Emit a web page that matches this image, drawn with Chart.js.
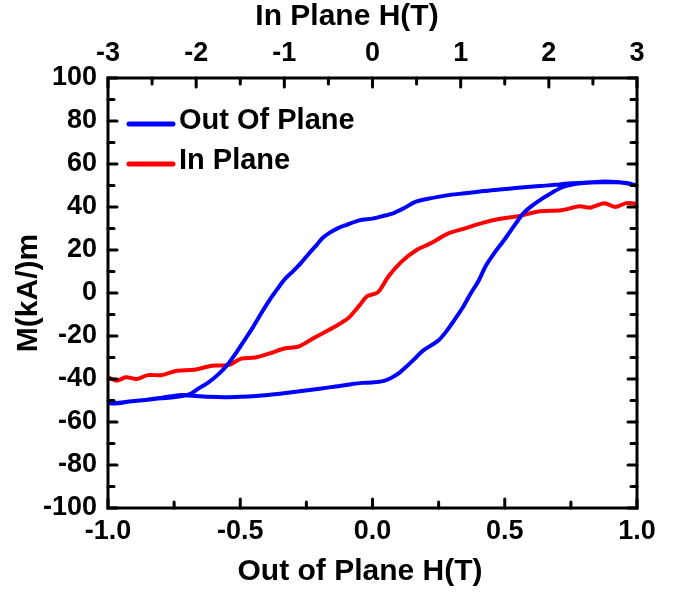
<!DOCTYPE html>
<html>
<head>
<meta charset="utf-8">
<script src="https://cdn.jsdelivr.net/npm/chart.js@4.4.1/dist/chart.umd.min.js"></script>
<style>
  html, body { margin: 0; padding: 0; background: #fff; }
  #wrap { width: 692px; height: 593px; }
</style>
</head>
<body>
<div id="wrap"><canvas id="myChart" width="692" height="593"></canvas></div>
<script>
// Out of plane loop (bottom axis, T) - upper branch then lower branch
let outH = [1.0, 0.96, 0.9, 0.86, 0.8, 0.75, 0.69, 0.62, 0.55, 0.48, 0.42, 0.35, 0.28, 0.21, 0.16, 0.12, 0.08, 0.04, 0.0,
    -0.05, -0.1, -0.13, -0.16, -0.19, -0.21, -0.24, -0.27, -0.3, -0.33, -0.36, -0.39, -0.42, -0.45, -0.48, -0.51, -0.55,
    -0.58, -0.62, -0.66, -0.69, -0.72, -0.76, -0.8, -0.84, -0.88, -0.92, -0.96, -1.0,
    -0.96, -0.92, -0.88, -0.84, -0.8, -0.76, -0.72, -0.68, -0.62, -0.56, -0.5, -0.44, -0.38, -0.32, -0.26, -0.2, -0.14,
    -0.08, -0.04, 0.0, 0.04, 0.07, 0.1, 0.13, 0.16, 0.19, 0.22, 0.25, 0.28, 0.31, 0.34, 0.37, 0.4, 0.43, 0.46, 0.5, 0.54,
    0.57, 0.6, 0.64, 0.68, 0.72, 0.76, 0.8, 0.86, 0.92, 0.96, 1.0];
let outM = [50, 51.2, 51.8, 51.8, 51.3, 51, 50.3, 49.6, 48.9, 48.1, 47.4, 46.4, 45.4, 43.8, 42.3, 39.5, 37.2, 35.8, 34.6,
    33.8, 31.6, 30.2, 28.2, 25.5, 22.5, 18.4, 14, 10.2, 6.7, 1.8, -3.4, -9.3, -15.5, -21.2, -26.8, -33.6,
    -37.5, -41.6, -44.6, -47, -47.9, -48.6, -49, -49.5, -50, -50.5, -51.3, -51.3,
    -51, -50.5, -50, -49.4, -48.8, -48, -47.4, -47.8, -48.3, -48.5, -48.3, -47.9, -47.2, -46.4, -45.5, -44.5, -43.5,
    -42.4, -41.8, -41.6, -41, -39.5, -37.3, -34, -30.5, -26.9, -24.5, -22, -17.7, -12.5, -7, -0.5, 5.5, 13, 18.5, 25, 32,
    37, 40.3, 43.8, 46.8, 49.3, 50.6, 51.2, 51.5, 51.5, 51, 50];

// In plane curve (top axis, T)
let inH = [-3.0, -2.9, -2.8, -2.67, -2.55, -2.39, -2.22, -2.02, -1.82, -1.63, -1.49, -1.33, -1.16, -1.0, -0.84, -0.66,
    -0.45, -0.27, -0.14, -0.06, 0.06, 0.18, 0.33, 0.5, 0.66, 0.86, 1.02, 1.25, 1.45, 1.65, 1.9, 2.14, 2.35, 2.47, 2.63,
    2.75, 2.88, 3.0];
let inM = [-39.2, -40.8, -39.2, -40, -38.2, -38.2, -36.2, -35.7, -33.8, -33.5, -30.5, -30, -28, -25.8, -24.9, -20.8,
    -16.2, -11.5, -5.4, -1.5, 0.3, 7.7, 14.6, 20, 23.1, 27.7, 29.7, 32.6, 34.5, 35.7, 38, 38.5, 40.3, 39.7, 41.8,
    40, 41.8, 41.5];

let seriesNames = ['Out Of Plane', 'In Plane'];
let seriesColors = ['#0000ff', '#ff0000'];

let bottomTitle = 'Out of Plane H(T)';
let topTitle = 'In Plane H(T)';
let leftTitle = 'M(kA/)m';

const FONT = 'Liberation Sans, Arial, sans-serif';

function toPoints(xs, ys) {
    let pts = [];
    for (let i = 0; i < xs.length; i++) {
        pts.push({x: xs[i], y: ys[i]});
    }
    return pts;
}

// frame, inward ticks, titles and legend
const decor = {
    id: 'decor',
    afterDatasetsDraw(chart) {
        const ctx = chart.ctx;
        const a = chart.chartArea;
        const s = chart.scales;
        ctx.save();
        ctx.strokeStyle = '#000';
        ctx.lineWidth = 3;
        ctx.lineCap = 'round';

        const tick = (x1, y1, x2, y2) => {
            ctx.beginPath();
            ctx.moveTo(x1, y1);
            ctx.lineTo(x2, y2);
            ctx.stroke();
        };
        const major = 9, minor = 6;

        // left and right ticks
        for (let v = -100; v <= 100; v += 10) {
            const y = s.y.getPixelForValue(v);
            const len = (v % 20 === 0) ? major : minor;
            tick(a.left, y, a.left + len, y);
            tick(a.right, y, a.right - len, y);
        }
        // bottom ticks
        for (let v = -1; v <= 1.0001; v += 0.25) {
            const x = s.x.getPixelForValue(v);
            const len = (Math.abs(v * 2 - Math.round(v * 2)) < 1e-6) ? major : minor;
            tick(x, a.bottom, x, a.bottom - len);
        }
        // top ticks
        for (let v = -3; v <= 3.0001; v += 0.5) {
            const x = s.x2.getPixelForValue(v);
            const len = (Math.abs(v - Math.round(v)) < 1e-6) ? major : minor;
            tick(x, a.top, x, a.top + len);
        }

        ctx.lineCap = 'butt';
        ctx.strokeRect(a.left, a.top, a.right - a.left, a.bottom - a.top);

        // axis titles
        ctx.fillStyle = '#000';
        ctx.font = 'bold 30px ' + FONT;
        ctx.textAlign = 'center';
        ctx.textBaseline = 'middle';
        ctx.fillText(bottomTitle, 360, 572);
        ctx.fillText(topTitle, 347, 17);
        ctx.save();
        ctx.translate(29, 293);
        ctx.rotate(-Math.PI / 2);
        ctx.fillText(leftTitle, 0, 0);
        ctx.restore();

        // legend
        ctx.font = 'bold 29px ' + FONT;
        ctx.textAlign = 'left';
        ctx.lineWidth = 5;
        ctx.lineCap = 'round';
        const rows = [124, 164];
        for (let i = 0; i < seriesNames.length; i++) {
            ctx.strokeStyle = seriesColors[i];
            tick(129, rows[i], 173, rows[i]);
            ctx.fillText(seriesNames[i], 179, rows[i] - 3);
        }
        ctx.restore();
    }
};

const ctx = document.getElementById('myChart').getContext('2d');

const tickFont = {family: FONT, size: 27, weight: 'bold'};

let myChart = new Chart(ctx, {
    type: 'scatter',
    data: {
        datasets: [{
            label: seriesNames[0],
            data: toPoints(outH, outM),
            xAxisID: 'x',
            showLine: true,
            borderColor: seriesColors[0],
            borderWidth: 4,
            pointRadius: 0,
            tension: 0.3,
            fill: false
        }, {
            label: seriesNames[1],
            data: toPoints(inH, inM),
            xAxisID: 'x2',
            showLine: true,
            borderColor: seriesColors[1],
            borderWidth: 4,
            pointRadius: 0,
            tension: 0.3,
            fill: false
        }]
    },
    options: {
        responsive: false,
        animation: false,
        layout: {padding: 0},
        plugins: {
            legend: {display: false},
            tooltip: {enabled: false}
        },
        scales: {
            x: {
                type: 'linear',
                position: 'bottom',
                min: -1, max: 1,
                afterFit: sc => { sc.height = 85; },
                grid: {display: false, drawTicks: false},
                border: {display: false},
                ticks: {
                    stepSize: 0.5, padding: 7, color: '#000', font: tickFont, maxRotation: 0,
                    callback: v => v.toFixed(1)
                }
            },
            x2: {
                type: 'linear',
                position: 'top',
                min: -3, max: 3,
                afterFit: sc => { sc.height = 78; },
                grid: {display: false, drawTicks: false},
                border: {display: false},
                ticks: {stepSize: 1, padding: 8, color: '#000', font: tickFont, maxRotation: 0}
            },
            y: {
                type: 'linear',
                position: 'left',
                min: -100, max: 100,
                afterFit: sc => { sc.width = 108; },
                grid: {display: false, drawTicks: false},
                border: {display: false},
                ticks: {stepSize: 20, padding: 11, color: '#000', font: tickFont}
            },
            y2: {
                type: 'linear',
                position: 'right',
                min: -100, max: 100,
                afterFit: sc => { sc.width = 55; },
                grid: {display: false, drawTicks: false},
                border: {display: false},
                ticks: {display: false}
            }
        }
    },
    plugins: [decor]
});
</script>
</body>
</html>
